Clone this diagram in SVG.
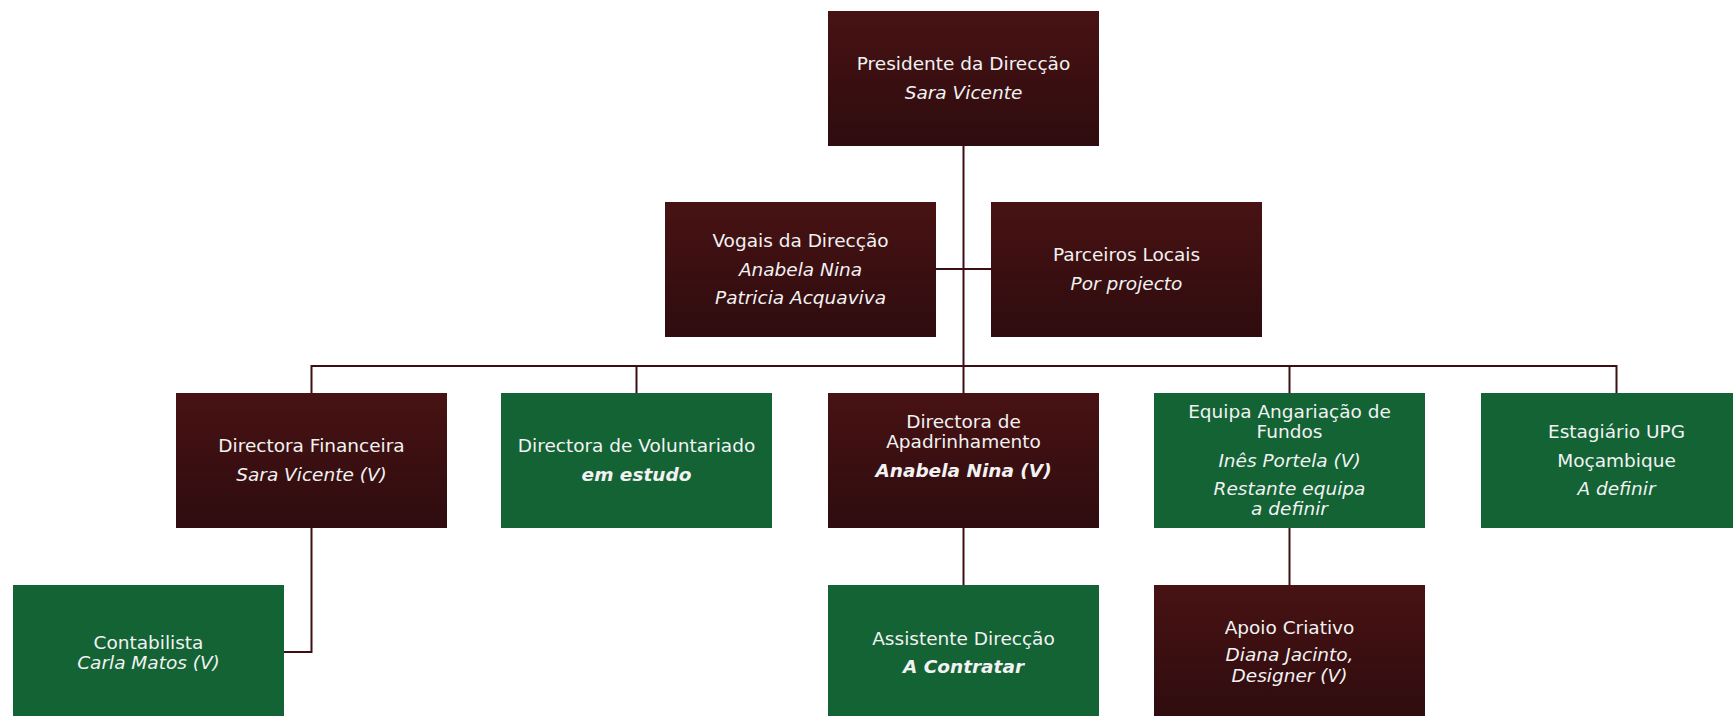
<svg xmlns="http://www.w3.org/2000/svg" width="1733" height="716" viewBox="0 0 1733 716">
<style>
.red{fill:url(#gr)}
.grn{fill:#136335}
.t{font-family:"DejaVu Sans","Liberation Sans",sans-serif;font-size:18.5px;fill:#f2f2f2;text-anchor:middle}
.i{font-style:italic}
.bi{font-style:italic;font-weight:bold}
.c{fill:none;stroke:#3b0f14;stroke-width:2}
</style>
<defs>
<linearGradient id="gr" x1="0" y1="0" x2="0" y2="1">
<stop offset="0" stop-color="#481213"/>
<stop offset="1" stop-color="#2e0c0f"/>
</linearGradient>
</defs>
<rect width="1733" height="716" fill="#ffffff"/>
<g id="connectors">
<path class="c" d="M963.5 146V393"/>
<path class="c" d="M936 269H991"/>
<path class="c" d="M311.5 393V366H1616.5V393"/>
<path class="c" d="M636.5 366V393"/>
<path class="c" d="M1289.5 366V393"/>
<path class="c" d="M311.5 528V652H284"/>
<path class="c" d="M963.5 528V585"/>
<path class="c" d="M1289.5 528V585"/>
</g>
<g id="presidente">
<rect class="red" x="828" y="11" width="271" height="135"/>
<text class="t" x="963.5" y="70">Presidente da Direcção</text>
<text class="t i" x="963.5" y="99">Sara Vicente</text>
</g>
<g id="vogais">
<rect class="red" x="665" y="202" width="271" height="135"/>
<text class="t" x="800.5" y="247">Vogais da Direcção</text>
<text class="t i" x="800.5" y="275.5">Anabela Nina</text>
<text class="t i" x="800.5" y="304">Patricia Acquaviva</text>
</g>
<g id="parceiros">
<rect class="red" x="991" y="202" width="271" height="135"/>
<text class="t" x="1126.5" y="261">Parceiros Locais</text>
<text class="t i" x="1126.5" y="290">Por projecto</text>
</g>
<g id="financeira">
<rect class="red" x="176" y="393" width="271" height="135"/>
<text class="t" x="311.5" y="452">Directora Financeira</text>
<text class="t i" x="311.5" y="481">Sara Vicente (V)</text>
</g>
<g id="voluntariado">
<rect class="grn" x="501" y="393" width="271" height="135"/>
<text class="t" x="636.5" y="452">Directora de Voluntariado</text>
<text class="t bi" x="636.5" y="481">em estudo</text>
</g>
<g id="apadrinhamento">
<rect class="red" x="828" y="393" width="271" height="135"/>
<text class="t" x="963.5" y="428">Directora de</text>
<text class="t" x="963.5" y="448">Apadrinhamento</text>
<text class="t bi" x="963.5" y="477">Anabela Nina (V)</text>
</g>
<g id="angariacao">
<rect class="grn" x="1154" y="393" width="271" height="135"/>
<text class="t" x="1289.5" y="417.5">Equipa Angariação de</text>
<text class="t" x="1289.5" y="438">Fundos</text>
<text class="t i" x="1289.5" y="466.5">Inês Portela (V)</text>
<text class="t i" x="1289.5" y="495">Restante equipa</text>
<text class="t i" x="1289.5" y="515">a definir</text>
</g>
<g id="estagiario">
<rect class="grn" x="1481" y="393" width="271" height="135"/>
<text class="t" x="1616.5" y="438">Estagiário UPG</text>
<text class="t" x="1616.5" y="466.5">Moçambique</text>
<text class="t i" x="1616.5" y="495">A definir</text>
</g>
<g id="contabilista">
<rect class="grn" x="13" y="585" width="271" height="135"/>
<text class="t" x="148.5" y="649">Contabilista</text>
<text class="t i" x="148.5" y="669">Carla Matos (V)</text>
</g>
<g id="assistente">
<rect class="grn" x="828" y="585" width="271" height="135"/>
<text class="t" x="963.5" y="645">Assistente Direcção</text>
<text class="t bi" x="963.5" y="672.5">A Contratar</text>
</g>
<g id="apoio">
<rect class="red" x="1154" y="585" width="271" height="135"/>
<text class="t" x="1289.5" y="634">Apoio Criativo</text>
<text class="t i" x="1289.5" y="661">Diana Jacinto,</text>
<text class="t i" x="1289.5" y="682">Designer (V)</text>
</g>
</svg>
